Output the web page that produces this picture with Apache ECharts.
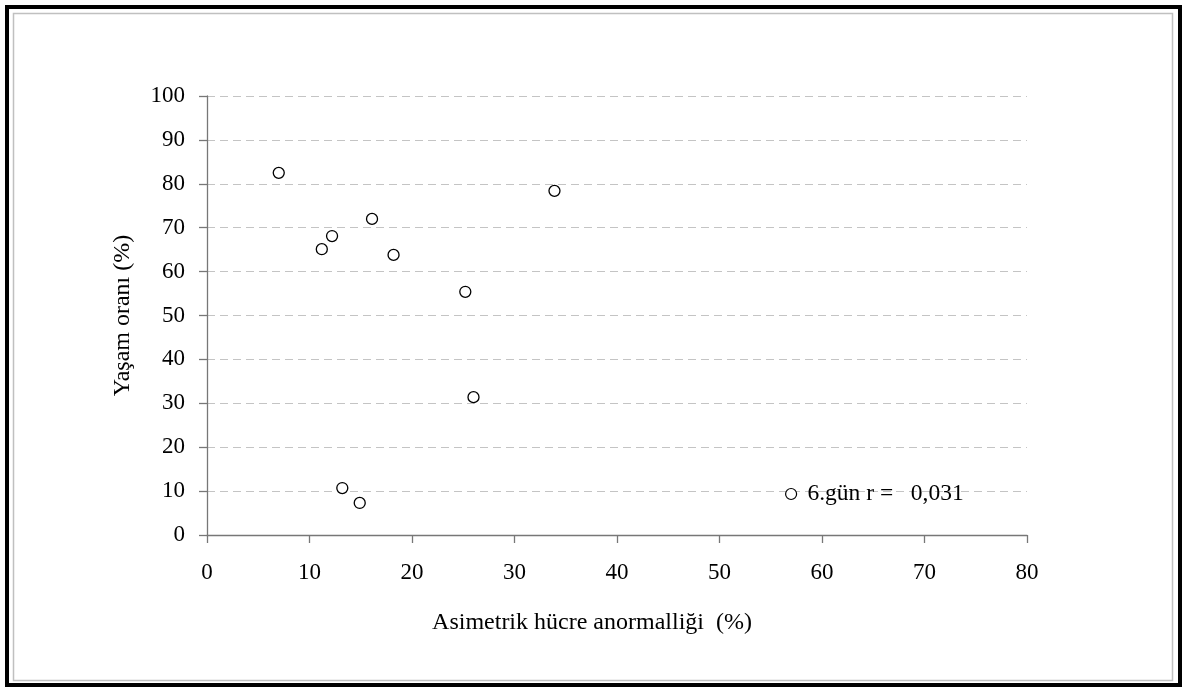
<!DOCTYPE html>
<html>
<head>
<meta charset="utf-8">
<script src="https://cdn.jsdelivr.net/npm/echarts@6/dist/echarts.min.js"></script>
<style>
html,body{margin:0;padding:0;background:#fff;}
#c{width:1182px;height:689px;}
</style>
</head>
<body>
<div id="c"></div>
<script>
var xValues = [7.0, 33.9, 16.1, 12.2, 11.2, 18.2, 25.2, 26.0, 13.2, 14.9];
var yValues = [82.5, 78.4, 72.0, 68.1, 65.1, 63.8, 55.4, 31.4, 10.7, 7.3];
var seriesName = '6.gün r =   0,031';
var xTitle = 'Asimetrik hücre anormalliği  (%)';
var yTitle = 'Yaşam oranı (%)';

var points = xValues.map(function (x, i) { return [x, yValues[i]]; });
var font = 'Liberation Serif';

var chart = echarts.init(document.getElementById('c'), null, {renderer: 'canvas'});
chart.setOption({
  animation: false,
  backgroundColor: '#fff',
  textStyle: {fontFamily: font},
  grid: {left: 207, top: 96, width: 820, height: 439, containLabel: false},
  legend: {
    left: 780, top: 477,
    itemWidth: 11, itemHeight: 11, itemGap: 6,
    data: [{name: seriesName, icon: 'circle'}],
    formatter: function (n) { return ' ' + n; },
    textStyle: {fontFamily: font, fontSize: 23.5, color: '#000'},
    itemStyle: {color: '#fff', borderColor: '#000', borderWidth: 1.2}
  },
  xAxis: {
    type: 'value', min: 0, max: 80, interval: 10,
    axisLine: {show: true, onZero: false, lineStyle: {color: '#777', width: 1.3}},
    axisTick: {show: true, length: 8, lineStyle: {color: '#777', width: 1.3}},
    axisLabel: {fontFamily: font, fontSize: 23, color: '#000', margin: 26},
    splitLine: {show: false}
  },
  yAxis: {
    type: 'value', min: 0, max: 100, interval: 10,
    name: yTitle, nameLocation: 'middle', nameGap: 72,
    nameTextStyle: {fontFamily: font, fontSize: 24, color: '#000'},
    axisLine: {show: true, lineStyle: {color: '#777', width: 1.3}},
    axisTick: {show: true, length: 8, lineStyle: {color: '#777', width: 1.3}},
    axisLabel: {fontFamily: font, fontSize: 23, color: '#000', margin: 22, padding: [10, 0, 0, 0]},
    splitLine: {show: true, lineStyle: {color: '#c4c4c4', width: 1, type: [8, 5]}}
  },
  series: [{
    name: seriesName,
    type: 'scatter',
    symbol: 'circle',
    symbolSize: 11,
    itemStyle: {color: '#fff', borderColor: '#000', borderWidth: 1.3, opacity: 1},
    data: points
  }],
  graphic: [
    {type: 'rect', shape: {x: 7, y: 7, width: 1173, height: 678},
     style: {fill: null, stroke: '#000', lineWidth: 4}, silent: true, z: 100},
    {type: 'rect', shape: {x: 13.5, y: 13.5, width: 1159, height: 667},
     style: {fill: null, stroke: '#c0c0c0', lineWidth: 1.5}, silent: true, z: 100},
    {type: 'text', x: 592, y: 623,
     style: {text: xTitle, font: '24px "Liberation Serif"', fill: '#000',
             textAlign: 'center', textVerticalAlign: 'middle'}}
  ]
});
</script>
</body>
</html>
